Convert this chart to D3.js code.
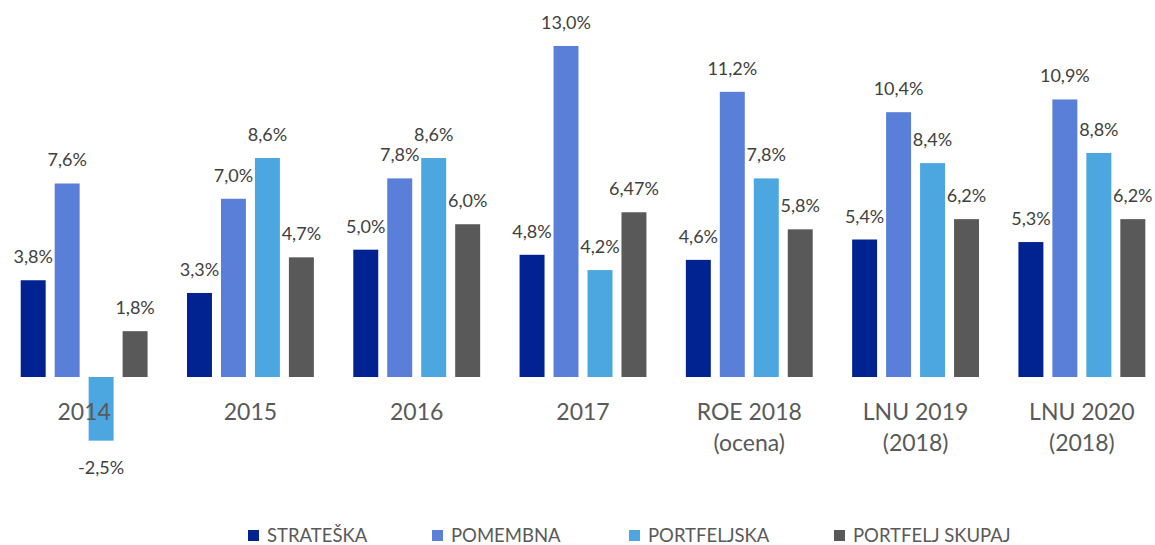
<!DOCTYPE html>
<html>
  <head>
    <meta charset="utf-8">
    <script src="https://d3js.org/d3.v7.min.js"></script>
    <style>
      body { margin: 0; background: #fff; }
      .val { fill: #404040; font-size: 18px; font-family: Lato, sans-serif; }
      .cat { fill: #595959; font-size: 23px; font-family: Lato, sans-serif; }
      .leg { fill: #595959; font-size: 18.5px; font-family: Lato, sans-serif; }
    </style>
  </head>
  <body>
    <svg width="1155" height="545"></svg>
    <script>
      // categories (two lines each)
      const categories = [
        ['2014'], ['2015'], ['2016'], ['2017'],
        ['ROE 2018', '(ocena)'], ['LNU 2019', '(2018)'], ['LNU 2020', '(2018)']
      ];
      const seriesNames = ['STRATEŠKA', 'POMEMBNA', 'PORTFELJSKA', 'PORTFELJ SKUPAJ'];
      const colors = ['#002391', '#5a7fd8', '#4ca6df', '#595959'];

      // values per series, in %
      const strateska   = [3.8, 3.3, 5.0, 4.8, 4.6, 5.4, 5.3];
      const pomembna    = [7.6, 7.0, 7.8, 13.0, 11.2, 10.4, 10.9];
      const portfeljska = [-2.5, 8.6, 8.6, 4.2, 7.8, 8.4, 8.8];
      const skupaj      = [1.8, 4.7, 6.0, 6.47, 5.8, 6.2, 6.2];
      const allSeries = [strateska, pomembna, portfeljska, skupaj];

      const svg = d3.select('svg');
      const catKeys = categories.map(c => c.join(' '));

      const x0 = d3.scaleBand()
        .domain(catKeys)
        .range([1, 1165])
        .padding(0);

      const x1 = d3.scaleBand()
        .domain(d3.range(4))
        .range([0, x0.bandwidth()])
        .paddingInner(0.265)
        .paddingOuter(0.58);

      const y = d3.scaleLinear()
        .domain([0, 13])
        .range([377, 46]);

      const fmt = v => (Math.abs(v * 10 - Math.round(v * 10)) < 1e-9 ? v.toFixed(1) : v.toFixed(2)).replace('.', ',') + '%';

      const rows = [];
      catKeys.forEach((c, i) => {
        allSeries.forEach((s, j) => rows.push({ cat: c, s: j, v: s[i] }));
      });

      const g = svg.append('g');

      g.selectAll('rect.bar').data(rows)
        .enter().append('rect')
          .attr('class', 'bar')
          .attr('x', d => x0(d.cat) + x1(d.s))
          .attr('width', x1.bandwidth())
          .attr('y', d => Math.min(y(d.v), y(0)))
          .attr('height', d => Math.abs(y(d.v) - y(0)))
          .attr('fill', d => colors[d.s]);

      g.selectAll('text.val').data(rows)
        .enter().append('text')
          .attr('class', 'val')
          .attr('x', d => x0(d.cat) + x1(d.s) + x1.bandwidth() / 2)
          .attr('y', d => d.v >= 0 ? y(d.v) - 17 : y(d.v) + 33)
          .attr('text-anchor', 'middle')
          .text(d => fmt(d.v));

      // category labels
      const catG = g.selectAll('text.cat').data(categories)
        .enter().append('text')
          .attr('class', 'cat')
          .attr('text-anchor', 'middle')
          .attr('x', (d, i) => x0(catKeys[i]) + x0.bandwidth() / 2)
          .attr('y', 420);
      catG.selectAll('tspan').data(d => d)
        .enter().append('tspan')
          .attr('x', function() { return d3.select(this.parentNode).attr('x'); })
          .attr('dy', (d, i) => i === 0 ? 0 : 31)
          .text(d => d);

      // legend
      const legX = [248, 432, 629, 834];
      const leg = svg.append('g').selectAll('g').data(seriesNames)
        .enter().append('g')
          .attr('transform', (d, i) => `translate(${legX[i]},530)`);
      leg.append('rect')
        .attr('width', 11).attr('height', 11)
        .attr('fill', (d, i) => colors[i]);
      leg.append('text')
        .attr('class', 'leg')
        .attr('x', 19).attr('y', 12)
        .text(d => d);
    </script>
  </body>
</html>
